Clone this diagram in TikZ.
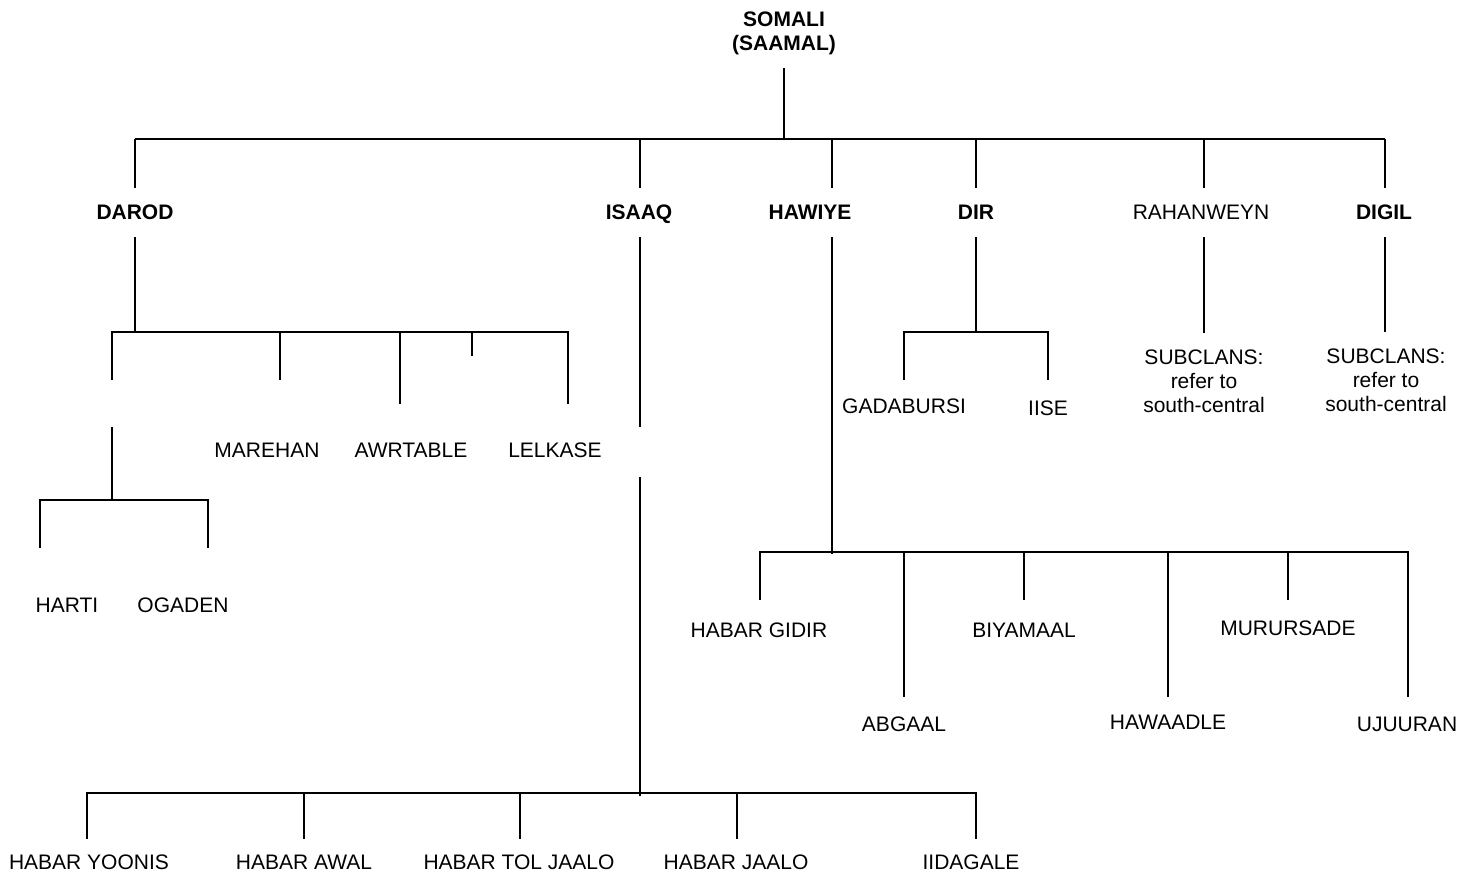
\documentclass[tikz,border=0pt]{standalone}
\usepackage{fontspec}
\setmainfont{Liberation Sans}
\begin{document}
\begin{tikzpicture}[x=1pt,y=-1pt,
  lbl/.style={font=\fontsize{21}{24}\selectfont, inner sep=0pt, anchor=north, align=center},
  blbl/.style={lbl, font=\fontsize{21}{24}\selectfont\bfseries},
  link/.style={line width=1.8pt, line join=miter}]
\useasboundingbox (0,0) rectangle (1475,878);

% ---------- labels ----------
\node[blbl] (somali) at (784,11.5) {SOMALI\\(SAAMAL)};
\node[blbl] (darod) at (135,204.5) {DAROD};
\node[blbl] (isaaq) at (639,204.5) {ISAAQ};
\node[blbl] (hawiye) at (810,204.5) {HAWIYE};
\node[blbl] (dir) at (976,204.5) {DIR};
\node[lbl] (rahanweyn) at (1201,204.5) {RAHANWEYN};
\node[blbl] (digil) at (1384,204.5) {DIGIL};

\node[lbl] (marehan) at (267,442.5) {MAREHAN};
\node[lbl] (awrtable) at (411,442.5) {AWRTABLE};
\node[lbl] (lelkase) at (555,442.5) {LELKASE};
\node[lbl] (harti) at (67,597.5) {HARTI};
\node[lbl] (ogaden) at (183,597.5) {OGADEN};

\node[lbl] (gadabursi) at (904,398.5) {GADABURSI};
\node[lbl] (iise) at (1048,400.5) {IISE};
\node[lbl] (rahsub) at (1204,349.5) {SUBCLANS:\\refer to\\south-central};
\node[lbl] (digsub) at (1386,348.5) {SUBCLANS:\\refer to\\south-central};

\node[lbl] (habargidir) at (759,622.5) {HABAR GIDIR};
\node[lbl] (biyamaal) at (1024,622.5) {BIYAMAAL};
\node[lbl] (murursade) at (1288,620.5) {MURURSADE};
\node[lbl] (abgaal) at (904,716.5) {ABGAAL};
\node[lbl] (hawaadle) at (1168,714.5) {HAWAADLE};
\node[lbl] (ujuuran) at (1407,716.5) {UJUURAN};

\node[lbl] (habaryoonis) at (89,854.5) {HABAR YOONIS};
\node[lbl] (habarawal) at (304,854.5) {HABAR AWAL};
\node[lbl] (habartoljaalo) at (519,854.5) {HABAR TOL JAALO};
\node[lbl] (habarjaalo) at (736,854.5) {HABAR JAALO};
\node[lbl] (iidagale) at (971,854.5) {IIDAGALE};

% ---------- junction coordinates ----------
\coordinate (rootA) at (784,68);
\coordinate (rootB) at (784,139);
\coordinate (busL) at (135,139);
\coordinate (busR) at (1385,139);
\foreach \n/\x in {darod/135,isaaq/640,hawiye/832,dir/976,rahanweyn/1204,digil/1385}{
  \coordinate (\n-up) at (\x,188);
  \coordinate (\n-dn) at (\x,237);
}
% Darod
\coordinate (dbus) at (135,332);
\coordinate (d1) at (112,380);
\coordinate (d2) at (280,380);
\coordinate (d3) at (400,404);
\coordinate (d4) at (472,356);
\coordinate (d5) at (568,404);
\coordinate (d1b) at (112,427);
\coordinate (d1c) at (112,500);
\coordinate (h1) at (40,548);
\coordinate (h2) at (208,548);
% Isaaq
\coordinate (i1) at (640,427);
\coordinate (i2) at (640,477);
\coordinate (i3) at (640,793);
\coordinate (ib1) at (87,839);
\coordinate (ib2) at (304,839);
\coordinate (ib3) at (520,839);
\coordinate (ib4) at (737,839);
\coordinate (ib5) at (976,839);
% Hawiye
\coordinate (hw1) at (832,552);
\coordinate (hb1) at (760,600);
\coordinate (hb2) at (904,697);
\coordinate (hb3) at (1024,600);
\coordinate (hb4) at (1168,697);
\coordinate (hb5) at (1288,600);
\coordinate (hb6) at (1408,697);
% Dir
\coordinate (dr1) at (976,332);
\coordinate (dr2) at (904,380);
\coordinate (dr3) at (1048,380);
% Rahanweyn, Digil
\coordinate (rh1) at (1204,333);
\coordinate (dg1) at (1385,332);

% ---------- connectors ----------
\draw[link] (rootA) -- (rootB);
\draw[link] (busL) -- (busR);
\foreach \n in {darod,isaaq,hawiye,dir,rahanweyn,digil}{
  \draw[link] (\n-up |- busL) -- (\n-up);
}
% Darod
\draw[link] (darod-dn) -- (dbus);
\draw[link] (d1) |- (d5 |- dbus) -- (d5);
\draw[link] (d2 |- dbus) -- (d2);
\draw[link] (d3 |- dbus) -- (d3);
\draw[link] (d4 |- dbus) -- (d4);
\draw[link] (d1b) -- (d1c);
\draw[link] (h1) |- (d1c) -| (h2);
% Isaaq
\draw[link] (isaaq-dn) -- (i1);
\draw[link] (i2) -- ([yshift=-3pt]i3);
\draw[link] (ib1) |- (i3) -| (ib5);
\foreach \c in {ib2,ib3,ib4}{ \draw[link] (\c |- i3) -- (\c); }
% Hawiye
\draw[link] (hawiye-dn) -- ([yshift=-2pt]hw1);
\draw[link] (hb1) |- (hw1) -| (hb6);
\foreach \c in {hb2,hb3,hb4,hb5}{ \draw[link] (\c |- hw1) -- (\c); }
% Dir
\draw[link] (dir-dn) -- (dr1);
\draw[link] (dr2) |- (dr1) -| (dr3);
% Rahanweyn, Digil
\draw[link] (rahanweyn-dn) -- (rh1);
\draw[link] (digil-dn) -- (dg1);
\end{tikzpicture}
\end{document}
